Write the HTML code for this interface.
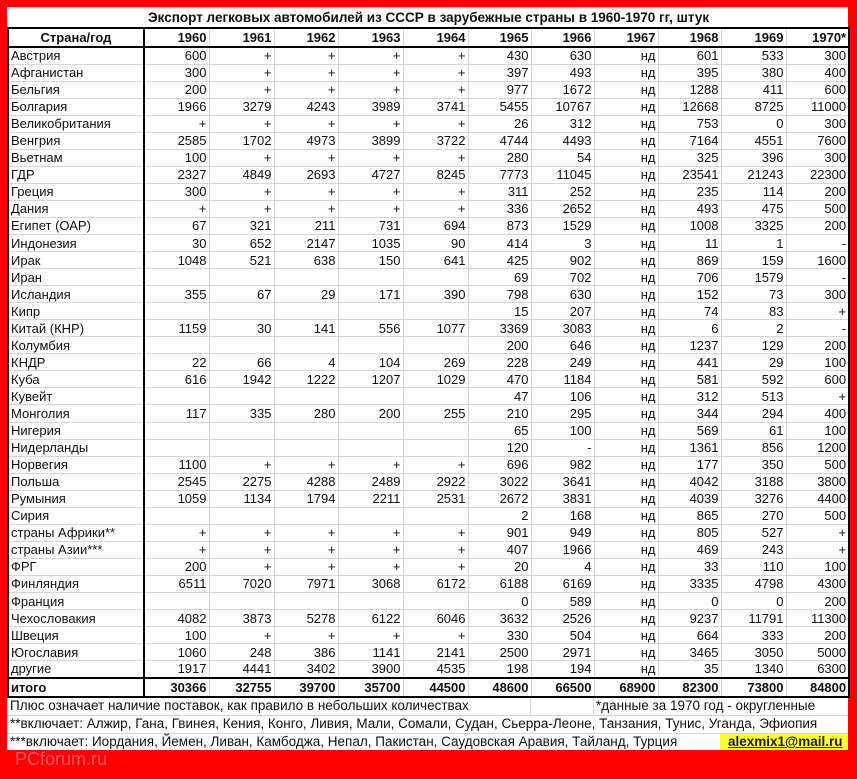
<!DOCTYPE html>
<html><head><meta charset="utf-8"><style>
*{margin:0;padding:0;box-sizing:border-box}
body{width:857px;height:779px;background:#f00;position:relative;overflow:hidden;font-family:"Liberation Sans","DejaVu Sans",sans-serif;}
#w{position:absolute;left:7px;top:7px;width:841px;height:743px;background:#fff}
table{position:absolute;left:7px;top:8px;border-collapse:collapse;table-layout:fixed;width:841px;font-size:13px;color:#111}
td{border:1px solid #d6d6d6;text-align:right;padding:0 2px 0 0;height:17.05px;line-height:15px;white-space:nowrap;overflow:hidden}
td:first-child{text-align:left;padding-left:2px;border-left:2px solid #000;border-right:2px solid #000}
td:last-child{border-right:2px solid #000}
tr.t td{border:none;border-bottom:2px solid #000;text-align:center;font-weight:bold;height:20px;font-size:13.5px}
tr.h td{font-weight:bold;border-bottom:2px solid #000;height:19px}
tr.h td:first-child{text-align:center}
tr.s td{font-weight:bold;border-top:2px solid #000;border-bottom:2px solid #000;height:19px}
.f{position:absolute;font-size:13.5px;color:#111;white-space:nowrap}
.fl{position:absolute;height:1px;background:#d6d6d6}
</style></head><body>
<div id="w"></div>
<table>
<colgroup><col style="width:136px"><col style="width:65px"><col style="width:65px"><col style="width:64px"><col style="width:65px"><col style="width:65px"><col style="width:63px"><col style="width:63px"><col style="width:64px"><col style="width:63px"><col style="width:65px"><col style="width:63px"></colgroup>
<tr class="t"><td colspan="12" style="border-left:none;border-right:none;text-align:center">Экспорт легковых автомобилей из СССР в зарубежные страны в 1960-1970 гг, штук</td></tr>
<tr class="h"><td>Страна/год</td><td>1960</td><td>1961</td><td>1962</td><td>1963</td><td>1964</td><td>1965</td><td>1966</td><td>1967</td><td>1968</td><td>1969</td><td>1970*</td></tr>
<tr><td>Австрия</td><td>600</td><td>+</td><td>+</td><td>+</td><td>+</td><td>430</td><td>630</td><td>нд</td><td>601</td><td>533</td><td>300</td></tr>
<tr><td>Афганистан</td><td>300</td><td>+</td><td>+</td><td>+</td><td>+</td><td>397</td><td>493</td><td>нд</td><td>395</td><td>380</td><td>400</td></tr>
<tr><td>Бельгия</td><td>200</td><td>+</td><td>+</td><td>+</td><td>+</td><td>977</td><td>1672</td><td>нд</td><td>1288</td><td>411</td><td>600</td></tr>
<tr><td>Болгария</td><td>1966</td><td>3279</td><td>4243</td><td>3989</td><td>3741</td><td>5455</td><td>10767</td><td>нд</td><td>12668</td><td>8725</td><td>11000</td></tr>
<tr><td>Великобритания</td><td>+</td><td>+</td><td>+</td><td>+</td><td>+</td><td>26</td><td>312</td><td>нд</td><td>753</td><td>0</td><td>300</td></tr>
<tr><td>Венгрия</td><td>2585</td><td>1702</td><td>4973</td><td>3899</td><td>3722</td><td>4744</td><td>4493</td><td>нд</td><td>7164</td><td>4551</td><td>7600</td></tr>
<tr><td>Вьетнам</td><td>100</td><td>+</td><td>+</td><td>+</td><td>+</td><td>280</td><td>54</td><td>нд</td><td>325</td><td>396</td><td>300</td></tr>
<tr><td>ГДР</td><td>2327</td><td>4849</td><td>2693</td><td>4727</td><td>8245</td><td>7773</td><td>11045</td><td>нд</td><td>23541</td><td>21243</td><td>22300</td></tr>
<tr><td>Греция</td><td>300</td><td>+</td><td>+</td><td>+</td><td>+</td><td>311</td><td>252</td><td>нд</td><td>235</td><td>114</td><td>200</td></tr>
<tr><td>Дания</td><td>+</td><td>+</td><td>+</td><td>+</td><td>+</td><td>336</td><td>2652</td><td>нд</td><td>493</td><td>475</td><td>500</td></tr>
<tr><td>Египет (ОАР)</td><td>67</td><td>321</td><td>211</td><td>731</td><td>694</td><td>873</td><td>1529</td><td>нд</td><td>1008</td><td>3325</td><td>200</td></tr>
<tr><td>Индонезия</td><td>30</td><td>652</td><td>2147</td><td>1035</td><td>90</td><td>414</td><td>3</td><td>нд</td><td>11</td><td>1</td><td>-</td></tr>
<tr><td>Ирак</td><td>1048</td><td>521</td><td>638</td><td>150</td><td>641</td><td>425</td><td>902</td><td>нд</td><td>869</td><td>159</td><td>1600</td></tr>
<tr><td>Иран</td><td></td><td></td><td></td><td></td><td></td><td>69</td><td>702</td><td>нд</td><td>706</td><td>1579</td><td>-</td></tr>
<tr><td>Исландия</td><td>355</td><td>67</td><td>29</td><td>171</td><td>390</td><td>798</td><td>630</td><td>нд</td><td>152</td><td>73</td><td>300</td></tr>
<tr><td>Кипр</td><td></td><td></td><td></td><td></td><td></td><td>15</td><td>207</td><td>нд</td><td>74</td><td>83</td><td>+</td></tr>
<tr><td>Китай (КНР)</td><td>1159</td><td>30</td><td>141</td><td>556</td><td>1077</td><td>3369</td><td>3083</td><td>нд</td><td>6</td><td>2</td><td>-</td></tr>
<tr><td>Колумбия</td><td></td><td></td><td></td><td></td><td></td><td>200</td><td>646</td><td>нд</td><td>1237</td><td>129</td><td>200</td></tr>
<tr><td>КНДР</td><td>22</td><td>66</td><td>4</td><td>104</td><td>269</td><td>228</td><td>249</td><td>нд</td><td>441</td><td>29</td><td>100</td></tr>
<tr><td>Куба</td><td>616</td><td>1942</td><td>1222</td><td>1207</td><td>1029</td><td>470</td><td>1184</td><td>нд</td><td>581</td><td>592</td><td>600</td></tr>
<tr><td>Кувейт</td><td></td><td></td><td></td><td></td><td></td><td>47</td><td>106</td><td>нд</td><td>312</td><td>513</td><td>+</td></tr>
<tr><td>Монголия</td><td>117</td><td>335</td><td>280</td><td>200</td><td>255</td><td>210</td><td>295</td><td>нд</td><td>344</td><td>294</td><td>400</td></tr>
<tr><td>Нигерия</td><td></td><td></td><td></td><td></td><td></td><td>65</td><td>100</td><td>нд</td><td>569</td><td>61</td><td>100</td></tr>
<tr><td>Нидерланды</td><td></td><td></td><td></td><td></td><td></td><td>120</td><td>-</td><td>нд</td><td>1361</td><td>856</td><td>1200</td></tr>
<tr><td>Норвегия</td><td>1100</td><td>+</td><td>+</td><td>+</td><td>+</td><td>696</td><td>982</td><td>нд</td><td>177</td><td>350</td><td>500</td></tr>
<tr><td>Польша</td><td>2545</td><td>2275</td><td>4288</td><td>2489</td><td>2922</td><td>3022</td><td>3641</td><td>нд</td><td>4042</td><td>3188</td><td>3800</td></tr>
<tr><td>Румыния</td><td>1059</td><td>1134</td><td>1794</td><td>2211</td><td>2531</td><td>2672</td><td>3831</td><td>нд</td><td>4039</td><td>3276</td><td>4400</td></tr>
<tr><td>Сирия</td><td></td><td></td><td></td><td></td><td></td><td>2</td><td>168</td><td>нд</td><td>865</td><td>270</td><td>500</td></tr>
<tr><td>страны Африки**</td><td>+</td><td>+</td><td>+</td><td>+</td><td>+</td><td>901</td><td>949</td><td>нд</td><td>805</td><td>527</td><td>+</td></tr>
<tr><td>страны Азии***</td><td>+</td><td>+</td><td>+</td><td>+</td><td>+</td><td>407</td><td>1966</td><td>нд</td><td>469</td><td>243</td><td>+</td></tr>
<tr><td>ФРГ</td><td>200</td><td>+</td><td>+</td><td>+</td><td>+</td><td>20</td><td>4</td><td>нд</td><td>33</td><td>110</td><td>100</td></tr>
<tr><td>Финляндия</td><td>6511</td><td>7020</td><td>7971</td><td>3068</td><td>6172</td><td>6188</td><td>6169</td><td>нд</td><td>3335</td><td>4798</td><td>4300</td></tr>
<tr><td>Франция</td><td></td><td></td><td></td><td></td><td></td><td>0</td><td>589</td><td>нд</td><td>0</td><td>0</td><td>200</td></tr>
<tr><td>Чехословакия</td><td>4082</td><td>3873</td><td>5278</td><td>6122</td><td>6046</td><td>3632</td><td>2526</td><td>нд</td><td>9237</td><td>11791</td><td>11300</td></tr>
<tr><td>Швеция</td><td>100</td><td>+</td><td>+</td><td>+</td><td>+</td><td>330</td><td>504</td><td>нд</td><td>664</td><td>333</td><td>200</td></tr>
<tr><td>Югославия</td><td>1060</td><td>248</td><td>386</td><td>1141</td><td>2141</td><td>2500</td><td>2971</td><td>нд</td><td>3465</td><td>3050</td><td>5000</td></tr>
<tr><td>другие</td><td>1917</td><td>4441</td><td>3402</td><td>3900</td><td>4535</td><td>198</td><td>194</td><td>нд</td><td>35</td><td>1340</td><td>6300</td></tr>
<tr class="s"><td>итого</td><td>30366</td><td>32755</td><td>39700</td><td>35700</td><td>44500</td><td>48600</td><td>66500</td><td>68900</td><td>82300</td><td>73800</td><td>84800</td></tr>
</table>
<div class="fl" style="left:7px;top:715px;width:841px"></div>
<div class="fl" style="left:7px;top:733px;width:841px"></div>
<div style="position:absolute;left:530px;top:698px;width:1px;height:17px;background:#d6d6d6"></div>
<div style="position:absolute;left:593px;top:698px;width:1px;height:17px;background:#d6d6d6"></div>
<div style="position:absolute;left:720px;top:734px;width:127px;height:16px;background:#ffff33"></div>
<div class="f" style="left:10px;top:698px">Плюс означает наличие поставок, как правило в небольших количествах</div>
<div class="f" style="left:596px;top:698px">*данные за 1970 год - округленные</div>
<div class="f" style="left:10px;top:716px">**включает: Алжир, Гана, Гвинея, Кения, Конго, Ливия, Мали, Сомали, Судан, Сьерра-Леоне, Танзания, Тунис, Уганда, Эфиопия</div>
<div class="f" style="left:10px;top:734px">***включает: Иордания, Йемен, Ливан, Камбоджа, Непал, Пакистан, Саудовская Аравия, Тайланд, Турция</div>
<div class="f" style="left:728px;top:734px;font-weight:bold;text-decoration:underline;color:#1a1a40">alexmix1@mail.ru</div>
<div class="f" style="left:15px;top:749px;font-size:18px;color:#ff5a5a">PCforum.ru</div>
</body></html>
